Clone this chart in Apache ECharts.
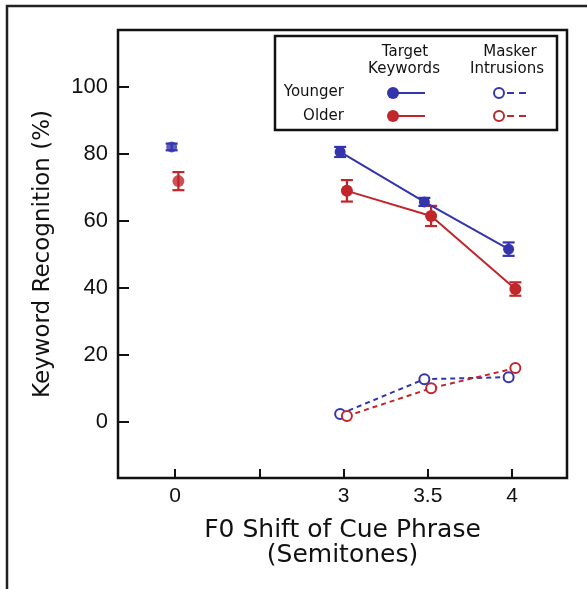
<!DOCTYPE html>
<html>
<head>
<meta charset="utf-8">
<script src="https://cdn.jsdelivr.net/npm/echarts@6/dist/echarts.min.js"></script>
<style>
html,body{margin:0;padding:0;background:#fff;}
#chart{width:587px;height:589px;}
</style>
</head>
<body>
<div id="chart"></div>
<script>
// ---- data ----
const axisSlots = ['0', '', '3', '3.5', '4'];          // tick slots on the x axis
const targetShifts = ['0', '3', '3.5', '4'];
const youngerTarget = [82.1, 80.6, 65.7, 51.6];
const youngerTargetErr = [1.0, 1.5, 1.2, 2.0];
const olderTarget = [71.9, 69.0, 61.5, 39.7];
const olderTargetErr = [2.7, 3.2, 3.0, 2.0];
const maskerShifts = ['3', '3.5', '4'];
const youngerMasker = [2.4, 12.8, 13.4];
const olderMasker = [1.8, 10.1, 16.1];
const yTicks = [0, 20, 40, 60, 80, 100];

// ---- styling ----
const BLUE = '#3434ad';
const RED = '#c0262a';
const TFONT = '"DejaVu Sans", sans-serif';
const SANS = '"Liberation Sans", Arial, sans-serif';
const DX = 0.04; // small horizontal jitter between groups

function slot(s) { return axisSlots.indexOf(s); }
function pts(cats, vals, off) { return cats.map((c, i) => [slot(c) + off, vals[i]]); }
function errPts(cats, vals, errs, off) { return cats.map((c, i) => [slot(c) + off, vals[i], errs[i]]); }

const yT = pts(targetShifts, youngerTarget, -DX);
const oT = pts(targetShifts, olderTarget, DX);
const yM = pts(maskerShifts, youngerMasker, -DX);
const oM = pts(maskerShifts, olderMasker, DX);

function errSeries(data, color) {
  return {
    type: 'custom',
    z: 2,
    data: data,
    renderItem: function (params, api) {
      const x = api.value(0), y = api.value(1), e = api.value(2);
      const top = api.coord([x, y + e]);
      const bot = api.coord([x, y - e]);
      const hw = 6;
      const st = { stroke: color, lineWidth: 2.2 };
      return {
        type: 'group',
        children: [
          { type: 'line', shape: { x1: top[0], y1: top[1], x2: bot[0], y2: bot[1] }, style: st },
          { type: 'line', shape: { x1: top[0] - hw, y1: top[1], x2: top[0] + hw, y2: top[1] }, style: st },
          { type: 'line', shape: { x1: bot[0] - hw, y1: bot[1], x2: bot[0] + hw, y2: bot[1] }, style: st }
        ]
      };
    }
  };
}

const chart = echarts.init(document.getElementById('chart'), null, { renderer: 'canvas' });

const legendText = (x, y, t, align) => ({
  type: 'text', x: x, y: y, z: 11,
  style: { text: t, fontFamily: TFONT, fontSize: 15, fill: '#111', align: align || 'center', verticalAlign: 'middle' }
});

const option = {
  animation: false,
  backgroundColor: '#fff',
  grid: { left: 118, right: 20, top: 30, bottom: 111, show: true, borderColor: '#111', borderWidth: 2.5, backgroundColor: 'transparent' },
  xAxis: {
    type: 'value', min: -0.677, max: 4.653,
    splitLine: { show: false },
    axisLine: { show: false, onZero: false },
    axisTick: { show: true, inside: true, length: 9, lineStyle: { color: '#111', width: 2 }, customValues: [0, 1, 2, 3, 4] },
    axisLabel: { customValues: [0, 2, 3, 4], formatter: v => axisSlots[Math.round(v)], color: '#111', fontFamily: SANS, fontSize: 21, margin: 8 },
    name: 'F0 Shift of Cue Phrase\n(Semitones)',
    nameLocation: 'middle', nameGap: 40,
    nameTextStyle: { color: '#111', fontFamily: TFONT, fontSize: 25, lineHeight: 25, verticalAlign: 'top' }
  },
  yAxis: {
    type: 'value', min: -16.7, max: 117,
    splitLine: { show: false },
    axisLine: { show: false, onZero: false },
    axisTick: { show: true, inside: true, length: 11, lineStyle: { color: '#111', width: 2 }, customValues: yTicks },
    axisLabel: { customValues: yTicks, color: '#111', fontFamily: SANS, fontSize: 22, margin: 10 },
    name: 'Keyword Recognition (%)',
    nameLocation: 'middle', nameGap: 63, nameRotate: 90,
    nameTextStyle: { color: '#111', fontFamily: TFONT, fontSize: 23 }
  },
  series: [
    errSeries(errPts(targetShifts, youngerTarget, youngerTargetErr, -DX), BLUE),
    errSeries(errPts(targetShifts, olderTarget, olderTargetErr, DX), RED),
    { type: 'scatter', z: 3, data: yT.slice(0, 1), symbol: 'circle', symbolSize: 11, itemStyle: { color: BLUE } },
    { type: 'scatter', z: 3, data: oT.slice(0, 1), symbol: 'circle', symbolSize: 12, itemStyle: { color: RED } },
    { type: 'line', z: 3, data: yT.slice(1), symbol: 'circle', symbolSize: 11, showSymbol: true,
      lineStyle: { color: BLUE, width: 2 }, itemStyle: { color: BLUE } },
    { type: 'line', z: 3, data: oT.slice(1), symbol: 'circle', symbolSize: 12, showSymbol: true,
      lineStyle: { color: RED, width: 2 }, itemStyle: { color: RED } },
    { type: 'line', z: 3, data: yM, symbol: 'circle', symbolSize: 10, showSymbol: true,
      lineStyle: { color: BLUE, width: 2, type: [5, 4] },
      itemStyle: { color: '#fff', borderColor: BLUE, borderWidth: 2 } },
    { type: 'line', z: 3, data: oM, symbol: 'circle', symbolSize: 10, showSymbol: true,
      lineStyle: { color: RED, width: 2, type: [5, 4] },
      itemStyle: { color: '#fff', borderColor: RED, borderWidth: 2 } }
  ],
  graphic: [
    { type: 'polyline', shape: { points: [[7, 589], [7, 6], [587, 6]] }, style: { stroke: '#222', lineWidth: 2.5, fill: null } },
    { type: 'rect', shape: { x: 275, y: 36, width: 282, height: 94 }, style: { fill: '#fff', stroke: '#111', lineWidth: 2.5 }, z: 10 },
    legendText(405, 52, 'Target'),
    legendText(404, 69, 'Keywords'),
    legendText(510, 52, 'Masker'),
    legendText(507, 69, 'Intrusions'),
    legendText(344, 92, 'Younger', 'right'),
    legendText(344, 116, 'Older', 'right'),
    { type: 'line', shape: { x1: 393, y1: 93, x2: 425, y2: 93 }, style: { stroke: BLUE, lineWidth: 2 }, z: 11 },
    { type: 'circle', shape: { cx: 393, cy: 93, r: 6 }, style: { fill: BLUE }, z: 12 },
    { type: 'line', shape: { x1: 393, y1: 116, x2: 425, y2: 116 }, style: { stroke: RED, lineWidth: 2 }, z: 11 },
    { type: 'circle', shape: { cx: 393, cy: 116, r: 6 }, style: { fill: RED }, z: 12 },
    { type: 'line', shape: { x1: 507, y1: 93, x2: 527, y2: 93 }, style: { stroke: BLUE, lineWidth: 2, lineDash: [7, 5] }, z: 11 },
    { type: 'circle', shape: { cx: 499, cy: 93, r: 5 }, style: { fill: '#fff', stroke: BLUE, lineWidth: 2 }, z: 12 },
    { type: 'line', shape: { x1: 507, y1: 116, x2: 527, y2: 116 }, style: { stroke: RED, lineWidth: 2, lineDash: [7, 5] }, z: 11 },
    { type: 'circle', shape: { cx: 499, cy: 116, r: 5 }, style: { fill: '#fff', stroke: RED, lineWidth: 2 }, z: 12 }
  ]
};
chart.setOption(option);
</script>
</body>
</html>
